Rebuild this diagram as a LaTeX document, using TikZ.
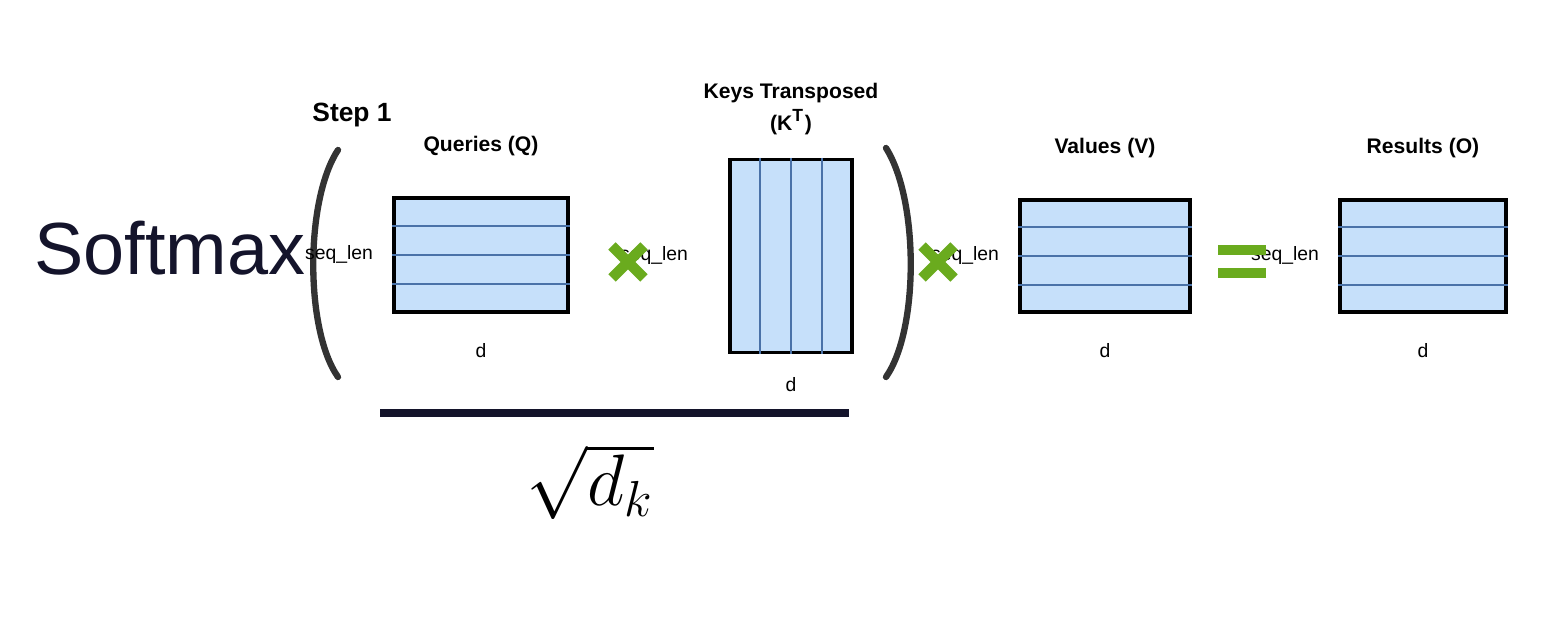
\documentclass[tikz,border=0pt]{standalone}
\usepackage{fontspec}
\setmainfont{Liberation Sans}
\usetikzlibrary{positioning,calc}
\definecolor{cellfill}{HTML}{C6E0FA}
\definecolor{cellline}{HTML}{4A72A8}
\definecolor{opgreen}{HTML}{6AAB1E}
\definecolor{ink}{HTML}{14142B}
\tikzset{
  mat/.style={draw=black, line width=0.9pt, fill=cellfill, inner sep=0pt},
  lab/.style={font=\fontsize{6}{7}\selectfont\bfseries},
  dim/.style={font=\fontsize{5.5}{6}\selectfont},
  paren/.style={draw=black!80, line width=1.8pt, line cap=round},
  op/.style={draw=opgreen, line width=3pt}
}
\begin{document}
\begin{tikzpicture}[x=0.01cm,y=-0.01cm]
  \useasboundingbox[fill=white] (0,0) rectangle (1560,625);
  \node[font=\fontsize{21}{24}\selectfont, text=ink] (soft) at (170,248) {Softmax};
  \node[font=\fontsize{7.5}{8}\selectfont\bfseries, anchor=west] (step) at (300,115) {Step 1};
  % brackets
  \coordinate (lp1) at (338,150); \coordinate (lp2) at (338,377);
  \coordinate (rp1) at (886,148); \coordinate (rp2) at (886,377);
  \draw[paren] (lp1) .. controls (305,200) and (305,330) .. (lp2);
  \draw[paren] (rp1) .. controls (919,200) and (919,330) .. (rp2);
  % Queries
  \node[mat, minimum width=174*0.01cm, minimum height=114*0.01cm] (q) at (481,255) {};
  \foreach \i in {1,2,3} \draw[cellline, line width=0.6pt] ($(q.north west)!\i/4!(q.south west)$) -- ($(q.north east)!\i/4!(q.south east)$);
  \node[lab, above=8pt of q] (ql) {Queries (Q)};
  \node[dim, left=2pt of q] (qs) {seq\_len};
  \node[dim, below=5pt of q] (qd) {d};
  % Keys transposed
  \node[mat, minimum width=122*0.01cm, minimum height=193*0.01cm] (k) at (791,256) {};
  \foreach \i in {1,2,3} \draw[cellline, line width=0.6pt] ($(k.north west)!\i/4!(k.north east)$) -- ($(k.south west)!\i/4!(k.south east)$);
  \node[lab, align=center, above=3pt of k] (kl) {Keys Transposed\\[1pt](K\textsuperscript{T})};
  \node[dim, left=8pt of k] (ks) {seq\_len};
  \node[dim, below=3pt of k] (kd) {d};
  % Values
  \node[mat, minimum width=170*0.01cm, minimum height=112*0.01cm] (v) at (1105,256) {};
  \foreach \i in {1,2,3} \draw[cellline, line width=0.6pt] ($(v.north west)!\i/4!(v.south west)$) -- ($(v.north east)!\i/4!(v.south east)$);
  \node[lab, above=8pt of v] (vl) {Values (V)};
  \node[dim, left=2pt of v] (vs) {seq\_len};
  \node[dim, below=5pt of v] (vd) {d};
  % Results
  \node[mat, minimum width=166*0.01cm, minimum height=112*0.01cm] (o) at (1423,256) {};
  \foreach \i in {1,2,3} \draw[cellline, line width=0.6pt] ($(o.north west)!\i/4!(o.south west)$) -- ($(o.north east)!\i/4!(o.south east)$);
  \node[lab, above=8pt of o] (ol) {Results (O)};
  \node[dim, left=2pt of o] (os) {seq\_len};
  \node[dim, below=5pt of o] (od) {d};
  % operators
  \draw[op] (612,246) -- (644,278) (612,278) -- (644,246);
  \draw[op] (922,246) -- (954,278) (922,278) -- (954,246);
  \draw[op] (1218,250) -- (1266,250) (1218,273) -- (1266,273);
  % division bar
  \coordinate (b1) at (380,413); \coordinate (b2) at (849,413);
  \draw[ink, line width=2pt] (b1) -- (b2);
  \node[font=\fontsize{20}{24}\selectfont] (sq) at (590,482) {$\sqrt{d_k}$};
\end{tikzpicture}
\end{document}
